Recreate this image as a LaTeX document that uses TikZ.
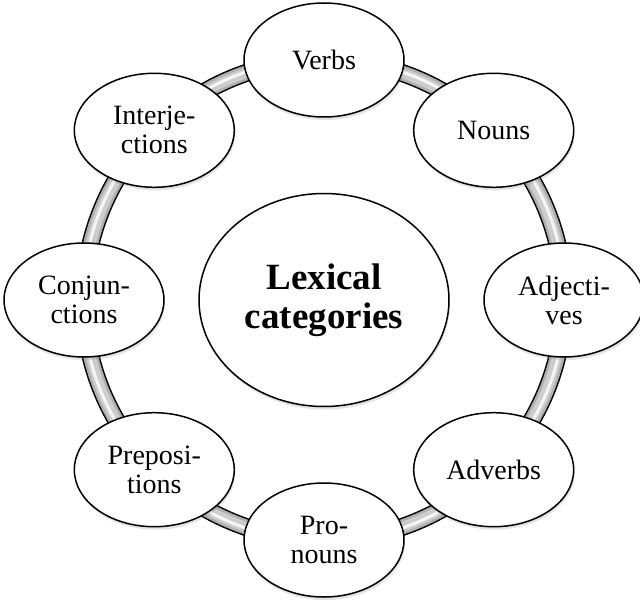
\documentclass[tikz,border=0pt]{standalone}
\usepackage{fontspec}
\setmainfont{Liberation Serif}
\usetikzlibrary{shapes.geometric,shadows}
\definecolor{lcring}{RGB}{175,175,175}
\definecolor{lcmid}{RGB}{205,205,205}
\definecolor{lcshine}{RGB}{245,245,245}
\tikzset{
  cat/.style={draw, ellipse, line width=1.5pt, fill=white, align=center, minimum width=160pt, minimum height=114pt, inner sep=0pt, font=\fontsize{28}{29}\selectfont, drop shadow={shadow xshift=1pt, shadow yshift=-3pt, opacity=0.22}},
  hub/.style={cat, minimum width=250pt, minimum height=213pt, font=\fontsize{37}{39}\selectfont\bfseries},
  ringout/.style={line width=18pt, black},
  ringin/.style={line width=15pt, lcring},
  ringmid/.style={line width=10pt, lcmid},
  ringhi/.style={line width=3pt, lcshine}
}
\begin{document}
\begin{tikzpicture}[x=1pt, y=1pt]
  \useasboundingbox (-324,-300) rectangle (316,300);
  % ring behind the categories
  \draw[ringout] (0,0) circle (240);
  \draw[ringin] (0,0) circle (240);
  \draw[ringmid] (0,0) circle (240);
  \draw[ringhi] (0,0) circle (241);
  \node[hub] (lex) at (0,0) {Lexical\\categories};
  \node[cat] (verbs) at (90:240) {Verbs};
  \node[cat] (nouns) at (45:240) {Nouns};
  \node[cat] (adj) at (0:240) {Adjecti-\\ves};
  \node[cat] (adv) at (-45:240) {Adverbs};
  \node[cat] (pron) at (-90:240) {Pro-\\nouns};
  \node[cat] (prep) at (-135:240) {Preposi-\\tions};
  \node[cat] (conj) at (180:240) {Conjun-\\ctions};
  \node[cat] (interj) at (135:240) {Interje-\\ctions};
\end{tikzpicture}
\end{document}
